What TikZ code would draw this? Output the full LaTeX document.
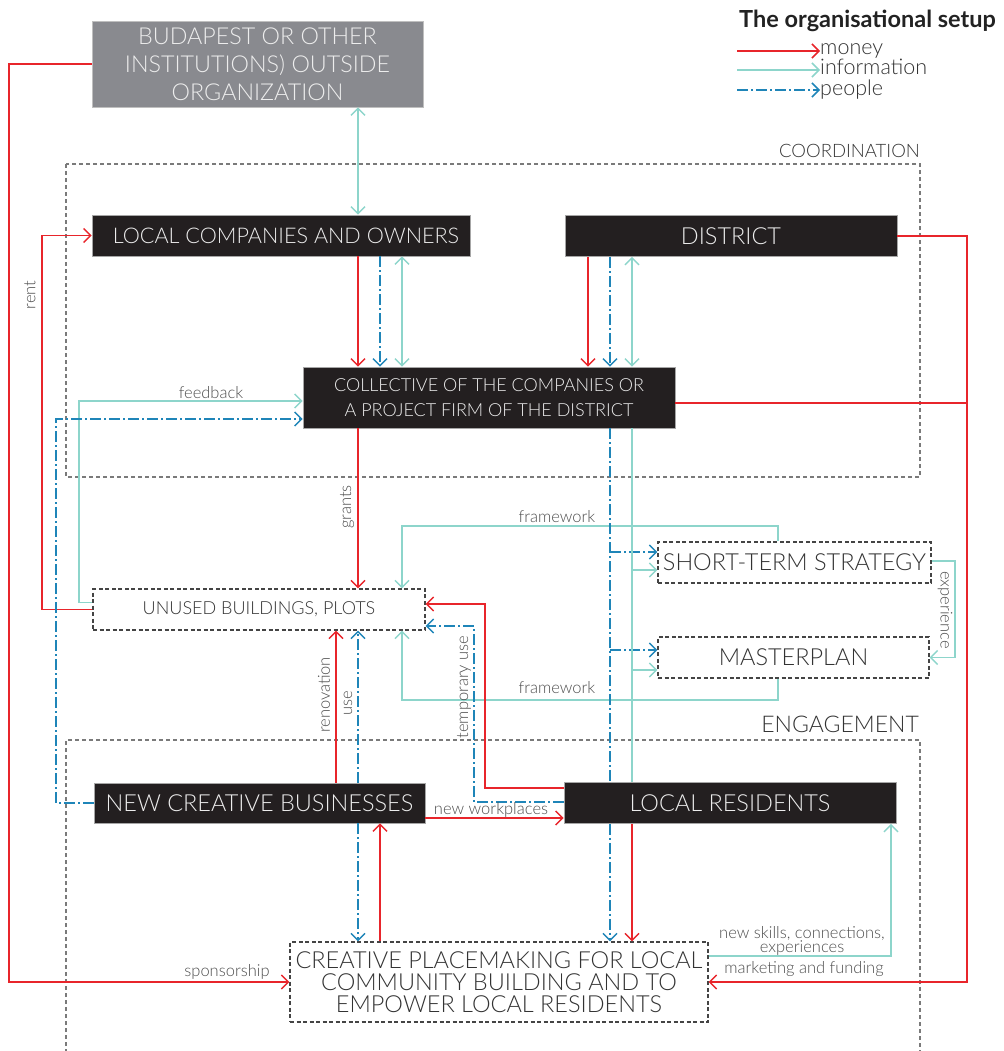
\documentclass[tikz,border=0pt]{standalone}
\usepackage{fontspec}
\setmainfont{Lato}[UprightFont=* Light, BoldFont=* Bold]
\usetikzlibrary{arrows.meta,calc}
\definecolor{money}{HTML}{E8252B}
\definecolor{info}{HTML}{8DD5CB}
\definecolor{people}{HTML}{1F85B8}
\definecolor{boxblack}{HTML}{231F20}
\definecolor{boxgray}{HTML}{898A8F}
\definecolor{boxtext}{HTML}{EDEDED}
\definecolor{dboxc}{HTML}{444444}
\definecolor{dtext}{HTML}{333333}
\definecolor{regc}{HTML}{7A7A7A}
\definecolor{lblc}{HTML}{4D4D4D}
\definecolor{titlec}{HTML}{222222}
\begin{document}
\begin{tikzpicture}[x=1pt,y=-1pt,
  >={Straight Barb[length=7pt,width=14pt]},
  blackbox/.style={fill=boxblack, draw=gray!70, line width=0.6pt, text=boxtext, inner sep=0pt, align=center},
  graybox/.style={fill=boxgray, draw=gray!50, line width=0.6pt, text=boxtext, inner sep=0pt, align=center},
  dbox/.style={draw=dboxc, dash pattern=on 4pt off 2.5pt, line width=1.2pt, text=dtext, inner sep=0pt, align=center, fill=white},
  region/.style={draw=regc, dash pattern=on 4pt off 3pt, line width=1.1pt},
  regtext/.style={text=dtext, inner sep=0pt, anchor=base east},
  lbl/.style={text=lblc, font=\fontsize{16.5}{16.5}\selectfont, inner sep=1pt},
  mline/.style={draw=money, line width=1.5pt},
  iline/.style={draw=info, line width=1.5pt},
  pline/.style={draw=people, line width=1.5pt, dash pattern=on 11pt off 3pt on 2pt off 3pt},
  legtext/.style={text=dtext, inner sep=0pt, anchor=base west, text depth=0pt, font=\fontsize{21.5}{21.5}\selectfont},
  big/.style={font=\fontsize{23.5}{23.5}\selectfont}
]
\useasboundingbox (0,0) rectangle (1003,1051);

% helper columns / rows
\foreach \xx in {9,42,56,79,336,358,380,402,474,485,588,610,632,778,891,955,967}
  {\coordinate (X\xx) at (\xx,0);}
\coordinate (Y526) at (0,526);
\coordinate (Y700) at (0,700);

% regions
\draw[region] (66,164) rectangle (920,477);
\node[regtext, font=\fontsize{18.5}{18.5}\selectfont] (coordlbl) at (920,158) {COORDINATION};
\draw[region] (66,1060) -- (66,740) -- (920,740) -- (920,1060);
\node[regtext, font=\fontsize{23}{23}\selectfont] (englbl) at (919,732) {ENGAGEMENT};

% nodes
\node[graybox, minimum width=331pt, minimum height=86pt, font=\fontsize{23.3}{28}\selectfont] (out) at (257.5,64) {BUDAPEST OR OTHER\\INSTITUTIONS) OUTSIDE\\ORGANIZATION};
\node[blackbox, minimum width=378pt, minimum height=41pt, font=\fontsize{21.6}{21.6}\selectfont] (lc) at (281,235.5) {\hspace*{10pt}LOCAL COMPANIES AND OWNERS};
\node[blackbox, big, minimum width=332pt, minimum height=41pt] (dist) at (731,236) {DISTRICT};
\node[blackbox, minimum width=372pt, minimum height=61pt, font=\fontsize{18}{25}\selectfont] (col) at (489,397.5) {COLLECTIVE OF THE COMPANIES OR\\A PROJECT FIRM OF THE DISTRICT};
\node[dbox, minimum width=332pt, minimum height=41pt, font=\fontsize{18}{18}\selectfont] (ub) at (259,609.5) {UNUSED BUILDINGS, PLOTS};
\node[dbox, big, minimum width=273pt, minimum height=41pt] (sts) at (794.5,562.5) {SHORT-TERM STRATEGY};
\node[dbox, big, minimum width=271pt, minimum height=41pt] (mp) at (793.5,657.5) {MASTERPLAN};
\node[blackbox, big, minimum width=331pt, minimum height=40pt] (ncb) at (259.5,803) {NEW CREATIVE BUSINESSES};
\node[blackbox, big, minimum width=332pt, minimum height=41pt] (lr) at (730,803) {LOCAL RESIDENTS};
\node[dbox, minimum width=418pt, minimum height=80pt, font=\fontsize{23.5}{22}\selectfont] (pm) at (499,982) {CREATIVE PLACEMAKING FOR LOCAL\\COMMUNITY BUILDING AND TO\\EMPOWER LOCAL RESIDENTS};

% ports
\coordinate (ubFb) at ([yshift=7pt]ub.west);
\coordinate (colFb) at ([yshift=-3.5pt]col.west);
\coordinate (colPp) at ([yshift=-21.5pt]col.west);
\coordinate (colR) at ([yshift=-5.5pt]col.east);
\coordinate (ubR1) at ([yshift=5.5pt]ub.east);
\coordinate (ubR2) at ([yshift=-16.5pt]ub.east);
\coordinate (lrL1) at ([yshift=15pt]lr.west);
\coordinate (lrL2) at ([yshift=1pt]lr.west);
\coordinate (ncbR) at ([yshift=-15pt]ncb.east);
\coordinate (stsP) at ([yshift=10.5pt]sts.west);
\coordinate (stsI) at ([yshift=-7.5pt]sts.west);
\coordinate (mpP) at ([yshift=7.5pt]mp.west);
\coordinate (mpI) at ([yshift=-12.5pt]mp.west);
\coordinate (pmI) at ([yshift=26pt]pm.east);
\coordinate (stsE) at ([yshift=1.5pt]sts.east);

% outside organization
\draw[mline,->] (out.west) -- (out.west -| X9) -- (X9 |- pm.west) -- (pm.west);
\node[lbl] (lsp) at (227,972) {sponsorship};
\draw[iline,<->] (X358 |- out.south) -- (X358 |- lc.north);

% district money
\draw[mline,->] (dist.east) -- (dist.east -| X967) -- (X967 |- pm.east) -- (pm.east);
\draw[mline] (colR) -- (colR -| X967);
\node[lbl] (lmf) at (804,969) {marketing and funding};

% into collective
\draw[mline,->] (X358 |- lc.south) -- (X358 |- col.north);
\draw[pline,->] (X380 |- lc.south) -- (X380 |- col.north);
\draw[iline,<->] (X402 |- lc.south) -- (X402 |- col.north);
\draw[mline,->] (X588 |- dist.south) -- (X588 |- col.north);
\draw[pline,->] (X610 |- dist.south) -- (X610 |- col.north);
\draw[iline,<->] (X632 |- dist.south) -- (X632 |- col.north);

% rent
\draw[mline,->] (ub.west) -- (ub.west -| X42) -- (X42 |- lc.west) -- (lc.west);
\node[lbl, rotate=90] (lrent) at (30,295) {rent};

% feedback
\draw[iline,->] (ubFb) -- (ubFb -| X79) -- (X79 |- colFb) -- (colFb);
\node[lbl] (lfb) at (211,393) {feedback};

% people from new creative businesses to collective
\draw[pline,->] (ncb.west) -- (ncb.west -| X56) -- (X56 |- colPp) -- (colPp);

% grants
\draw[mline,->] (X358 |- col.south) -- (X358 |- ub.north);
\node[lbl, rotate=90] (lgr) at (347,507) {grants};

% frameworks
\draw[iline,->] (X778 |- sts.north) -- (X778 |- Y526) -- (X402 |- Y526) -- (X402 |- ub.north);
\node[lbl] (lfw1) at (557,517) {framework};
\draw[iline,->] (X778 |- mp.south) -- (X778 |- Y700) -- (X402 |- Y700) -- (X402 |- ub.south);
\node[lbl] (lfw2) at (557,688) {framework};

% renovation / use
\draw[mline,->] (X336 |- ncb.north) -- (X336 |- ub.south);
\node[lbl, rotate=90] (lren) at (324,695) {renovation};
\draw[pline,->] (X358 |- ncb.north) -- (X358 |- ub.south);
\node[lbl, rotate=90] (luse) at (348,703) {use};

% temporary use
\draw[mline,->] (lrL1) -- (lrL1 -| X485) -- (X485 |- ubR1) -- (ubR1);
\draw[pline,->] (lrL2) -- (lrL2 -| X474) -- (X474 |- ubR2) -- (ubR2);
\node[lbl, rotate=90] (ltmp) at (464,687) {temporary use};

% new workplaces
\draw[mline,->] (ncbR) -- (ncbR -| lr.west);
\node[lbl] (lnw) at (491,810) {new workplaces};

% to placemaking
\draw[pline,->] (X358 |- ncb.south) -- (X358 |- pm.north);
\draw[mline,->] (X380 |- pm.north) -- (X380 |- ncb.south);
\draw[pline,->] (X610 |- lr.south) -- (X610 |- pm.north);
\draw[mline,->] (X632 |- lr.south) -- (X632 |- pm.north);

% verticals from collective
\draw[pline] (X610 |- col.south) -- (X610 |- lr.north);
\draw[pline,->] (X610 |- stsP) -- (stsP);
\draw[pline,->] (X610 |- mpP) -- (mpP);
\draw[iline] (X632 |- col.south) -- (X632 |- lr.north);
\draw[iline,->] (X632 |- stsI) -- (stsI);
\draw[iline,->] (X632 |- mpI) -- (mpI);

% experience
\draw[iline,->] (stsE) -- (stsE -| X955) -- (X955 |- mp.east) -- (mp.east);
\node[lbl, rotate=-90] (lexp) at (945,610) {experience};

% placemaking to residents
\draw[iline,->] (pmI) -- (pmI -| X891) -- (X891 |- lr.south);
\node[lbl, align=center, font=\fontsize{16.5}{12}\selectfont] (lskills) at (802,941) {new skills, connections,\\experiences};

% legend
\node[anchor=base west, font=\bfseries\fontsize{23.5}{23.5}\selectfont, text=titlec, inner sep=0pt] (ltitle) at (739,28) {The organisational setup};
\node[legtext] (lgm) at (820,55) {money};
\node[legtext] (lgi) at (820,75) {information};
\node[legtext, text height=13pt] (lgp) at (820,96) {people};
\coordinate (lgm0) at (737,51);
\coordinate (lgi0) at (737,70);
\coordinate (lgp0) at (737,90);
\draw[mline,->] (lgm0) -- (lgm0 -| lgm.west);
\draw[iline,->] (lgi0) -- (lgi0 -| lgi.west);
\draw[pline,->] (lgp0) -- (lgp0 -| lgp.west);
\end{tikzpicture}
\end{document}
